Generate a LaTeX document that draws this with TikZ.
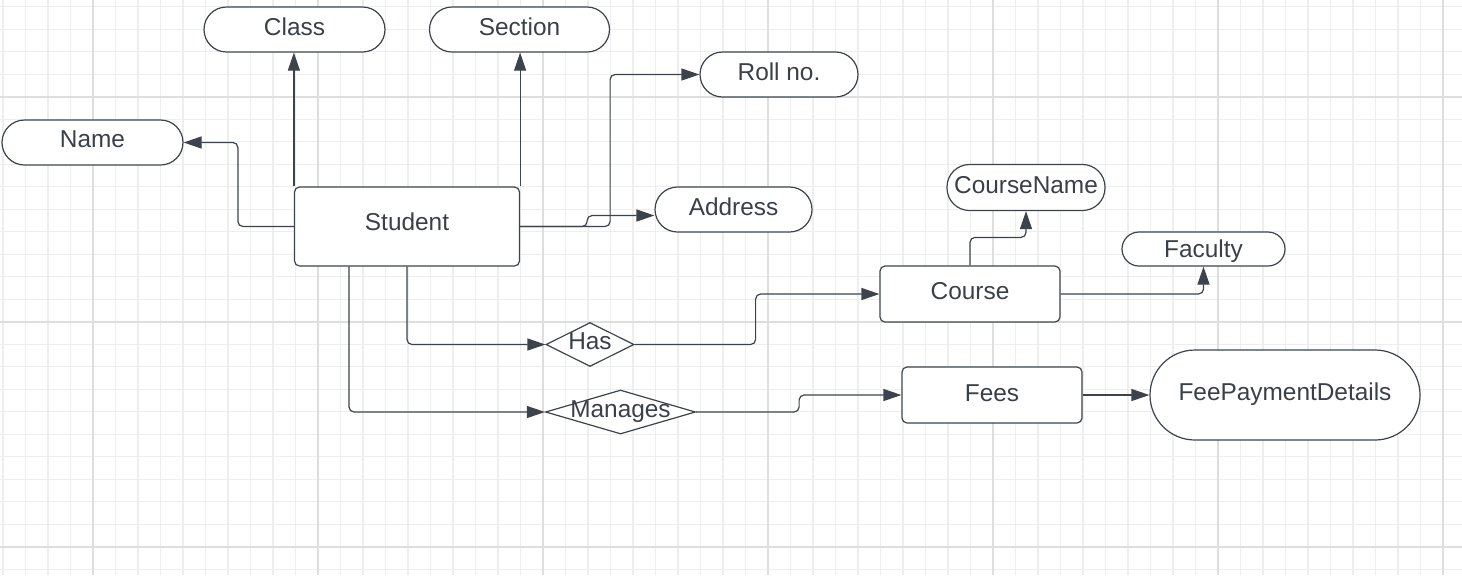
\documentclass[tikz,border=0pt]{standalone}
\usepackage{fontspec}
\setmainfont{Liberation Sans}
\usepackage{tikz}
\usetikzlibrary{shapes.geometric, arrows.meta, positioning}

\definecolor{inkline}{HTML}{3D434D}
\definecolor{inktext}{HTML}{3A4049}
\definecolor{gridminor}{HTML}{EEEEEE}
\definecolor{gridmajor}{HTML}{DEDEDE}

\tikzset{
    every node/.style={font=\fontsize{12.2}{14}\selectfont, text=inktext},
    minorline/.style={draw=gridminor, line width=0.6pt},
    majorline/.style={draw=gridmajor, line width=0.8pt},
    attr/.style={draw=inkline, fill=white, line width=0.6pt, rectangle,
        rounded corners=11.25pt, minimum height=22.5pt, inner sep=0pt, text depth=3pt},
    entity/.style={draw=inkline, fill=white, line width=0.6pt, rectangle,
        rounded corners=2.5pt, inner sep=0pt, text depth=3pt},
    relation/.style={draw=inkline, fill=white, line width=0.6pt, diamond,
        inner sep=0pt, minimum height=22pt},
    rellabel/.style={text depth=3pt},
    link/.style={draw=inkline, line width=0.6pt, rounded corners=2.5pt,
        -{Triangle[length=9pt, width=6pt]}}
}

\begin{document}
\begin{tikzpicture}[x=0.5pt, y=-0.5pt]

\useasboundingbox (0,0) rectangle (1462,575);
\fill[white] (0,0) rectangle (1462,575);

% grid paper
\foreach \i in {0,...,64}
    \draw[minorline] (3+22.5*\i, 0) -- (3+22.5*\i, 575);
\foreach \j in {0,...,25}
    \draw[minorline] (0, 6.7+22.5*\j) -- (1462, 6.7+22.5*\j);
\foreach \i in {0,...,6}
    \draw[majorline] (93+225*\i, 0) -- (93+225*\i, 575);
\foreach \j in {0,1,2}
    \draw[majorline] (0, 96.7+225*\j) -- (1462, 96.7+225*\j);

% entities
\node[entity, minimum width=112.5pt, minimum height=39.5pt, text depth=5pt] (student) at (407, 226.5) {Student};
\node[entity, minimum width=90pt, minimum height=28pt] (course) at (970, 294) {Course};
\node[entity, minimum width=90pt, minimum height=28pt, text depth=2pt] (fees) at (992, 395) {Fees};

% attributes
\node[attr, minimum width=90.5pt] (class) at (294.5, 29.5) {Class};
\node[attr, minimum width=90pt] (section) at (519.5, 29.5) {Section};
\node[attr, minimum width=79pt] (rollno) at (779, 74.5) {Roll no.};
\node[attr, minimum width=90.5pt] (name) at (92.5, 142.5) {Name};
\node[attr, minimum width=78.5pt] (address) at (733.5, 209.5) {Address};
\node[attr, minimum width=79pt, minimum height=23pt] (coursename) at (1026, 187.5) {CourseName};
\node[attr, minimum width=81.5pt, minimum height=17pt, rounded corners=8.5pt, text depth=0pt] (faculty) at (1203.5, 249) {Faculty};
\node[attr, minimum width=135pt, minimum height=45pt, rounded corners=22.5pt] (feedetails) at (1285, 395) {FeePaymentDetails};

% relations
\node[relation, minimum width=44pt, label={[rellabel]center:Has}] (has) at (590, 344.5) {};
\node[relation, minimum width=75pt, label={[rellabel]center:Manages}] (manages) at (620.5, 412) {};

% connectors
\draw[link] (student.north west) -- (student.north west |- class.south);
\draw[link] (student.north east) -- (student.north east |- section.south);
\draw[link] (student.west) -- ++(-56,0) |- (name.east);
\draw[link] (student.east) -- ++(90,0) |- (rollno.west);
\draw[link] (student.east) -- ++(67,0) |- ([yshift=-3pt]address.west);
\draw[link] (student.south) |- (has.west);
\draw[link] ([xshift=-29pt]student.south) |- (manages.west);
\draw[link] (has.east) -- ++(121,0) |- (course.west);
\draw[link] (manages.east) -- ++(103,0) |- (fees.west);
\draw[link] (fees.east) -- (feedetails.west);
\draw[link] (course.north) -- ++(0,-28) -| (coursename.south);
\draw[link] (course.east) -| (faculty.south);

\end{tikzpicture}
\end{document}
